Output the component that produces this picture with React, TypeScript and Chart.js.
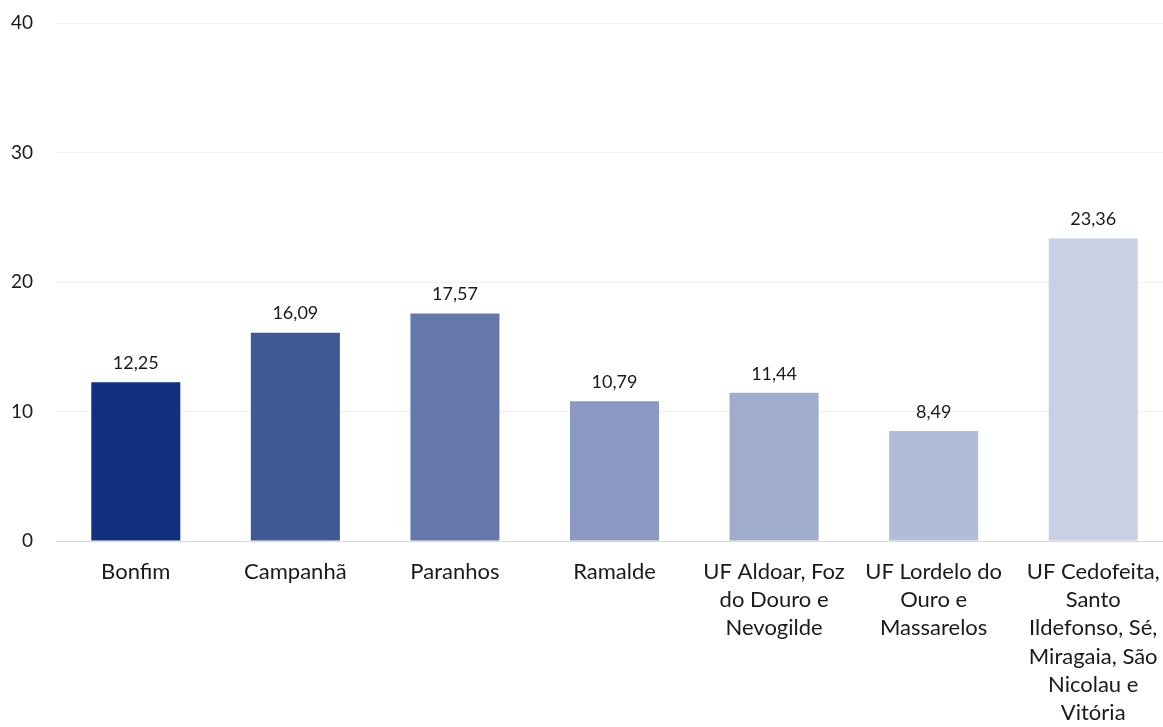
import React, { useEffect, useRef } from "react";
import { Chart, registerables } from "chart.js";

Chart.register(...registerables);

const categories: string[][] = [
  ["Bonfim"],
  ["Campanhã"],
  ["Paranhos"],
  ["Ramalde"],
  ["UF Aldoar, Foz", "do Douro e", "Nevogilde"],
  ["UF Lordelo do", "Ouro e", "Massarelos"],
  ["UF Cedofeita,", "Santo", "Ildefonso, Sé,", "Miragaia, São", "Nicolau e", "Vitória"],
];
const values: number[] = [12.25, 16.09, 17.57, 10.79, 11.44, 8.49, 23.36];
const barColors: string[] = ["#11307F", "#3F5896", "#6478AB", "#8A99C3", "#9FACCD", "#B0BCD8", "#C9D0E3"];
const yTicks: number[] = [0, 10, 20, 30, 40];

const FONT = "Lato, 'Open Sans', sans-serif";

const valueLabels = {
  id: "valueLabels",
  afterDatasetsDraw(chart: any) {
    const ctx = chart.ctx;
    const meta = chart.getDatasetMeta(0);
    ctx.save();
    ctx.font = `18px ${FONT}`;
    ctx.fillStyle = "#1a1a1a";
    ctx.textAlign = "center";
    ctx.textBaseline = "bottom";
    meta.data.forEach((bar: any, i: number) => {
      const v = chart.data.datasets[0].data[i] as number;
      ctx.fillText(v.toFixed(2).replace(".", ","), bar.x, bar.y - 10);
    });
    ctx.restore();
  },
};

export default function App() {
  const ref = useRef<HTMLCanvasElement>(null);
  useEffect(() => {
    if (!ref.current) return;
    const chart = new Chart(ref.current, {
      type: "bar",
      data: {
        labels: categories,
        datasets: [
          {
            data: values,
            backgroundColor: barColors,
            categoryPercentage: 1,
            barPercentage: 0.558,
          },
        ],
      },
      options: {
        animation: false,
        responsive: true,
        maintainAspectRatio: false,
        layout: { padding: { top: 23, left: 0, right: 0, bottom: 0 } },
        plugins: { legend: { display: false }, tooltip: { enabled: false } },
        scales: {
          x: {
            grid: { display: false, drawTicks: false },
            border: { display: true, color: "#d9d9d9", width: 1 },
            afterFit(axis: any) {
              axis.height = 186;
              axis.paddingLeft = 0;
              axis.paddingRight = 0;
            },
            ticks: {
              color: "#1a1a1a",
              font: { family: FONT, size: 22, lineHeight: 1.28 },
              padding: 17,
              maxRotation: 0,
              autoSkip: false,
            },
          },
          y: {
            min: 0,
            max: 40,
            afterBuildTicks(axis: any) {
              axis.ticks = yTicks.map((v) => ({ value: v }));
            },
            afterFit(axis: any) {
              axis.width = 56;
              axis.paddingTop = 0;
              axis.paddingBottom = 0;
            },
            grid: { color: "#efefef", drawTicks: false },
            border: { display: false },
            ticks: {
              color: "#1a1a1a",
              font: { family: FONT, size: 19 },
              padding: 23,
            },
          },
        },
      },
      plugins: [valueLabels],
    });
    return () => chart.destroy();
  }, []);
  return (
    <div style={{ position: "fixed", left: 0, top: 0, width: 1163, height: 727, overflow: "hidden" }}>
      <div style={{ position: "relative", width: 1173, height: 727 }}>
        <canvas ref={ref} />
      </div>
    </div>
  );
}
